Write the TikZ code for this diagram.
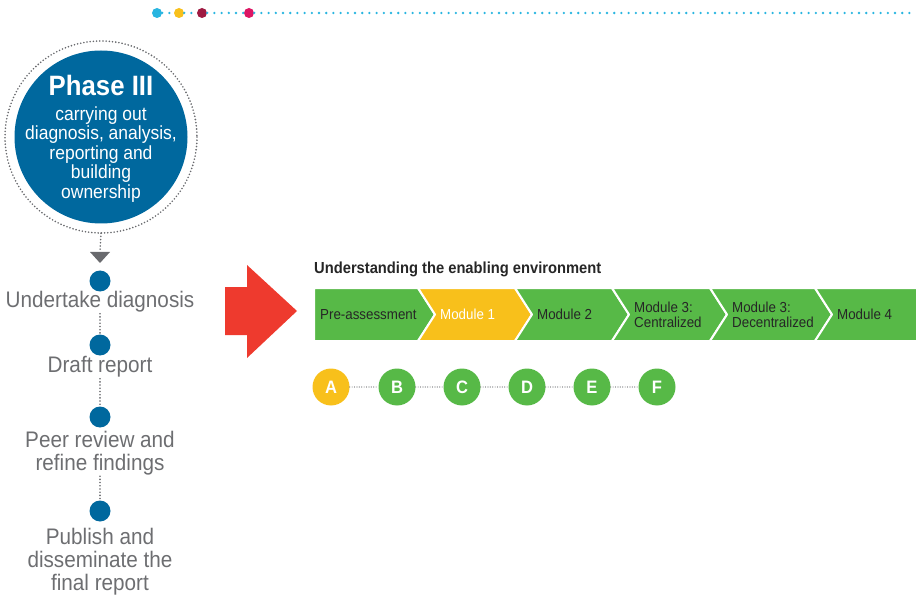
\documentclass[tikz,border=0pt]{standalone}
\usepackage{fontspec}
\setmainfont{Liberation Sans}[FakeStretch=0.92]
\usetikzlibrary{positioning}

\definecolor{phaseblue}{RGB}{0,104,158}
\definecolor{modgreen}{RGB}{87,185,71}
\definecolor{modyellow}{RGB}{248,192,27}
\definecolor{arrowred}{RGB}{238,58,46}
\definecolor{txtgray}{RGB}{109,110,113}
\definecolor{dotgray}{RGB}{105,106,110}
\definecolor{topcyan}{RGB}{41,181,224}
\definecolor{topmaroon}{RGB}{158,27,66}
\definecolor{topmagenta}{RGB}{220,22,100}

\begin{document}
\begin{tikzpicture}[x=1pt, y=-1pt, line join=round]
  % pixel grid of the page, y running down
  \useasboundingbox (0,0) rectangle (916,596);

  \tikzset{
    dotline/.style={draw=dotgray, line width=1.8pt, line cap=round,
      dash pattern=on 0pt off 3.2pt},
    stepdot/.style={circle, fill=phaseblue, minimum size=21pt, inner sep=0pt},
    steplabel/.style={align=center, text=txtgray, inner sep=1pt,
      font=\fontsize{22.5}{23}\selectfont},
    letterdot/.style={circle, minimum size=37pt, inner sep=0pt, text=white,
      font=\fontsize{18}{18}\selectfont\bfseries},
    modlabel/.style={align=left, text=black!85, inner sep=0pt,
      font=\fontsize{14.5}{15}\selectfont},
    topdot/.style={circle, minimum size=10pt, inner sep=0pt},
  }

  % top dotted rule
  \node[topdot, fill=topcyan]    (t1) at (157,13) {};
  \node[topdot, fill=modyellow]  (t2) at (179,13) {};
  \node[topdot, fill=topmaroon]  (t3) at (202,13) {};
  \node[topdot, fill=topmagenta] (t4) at (249,13) {};
  \coordinate (tend) at (916,13);
  \foreach \p/\q in {t1/t2, t2/t3, t3/t4, t4/tend}
    \draw[topcyan, line width=2.6pt, line cap=round,
      dash pattern=on 0pt off 7.2pt] (\p) -- (\q);

  % phase circle
  \node[circle, minimum size=192pt, inner sep=0pt] (ring) at (101,137) {};
  \draw[dotline] (ring.center) circle (96);
  \fill[phaseblue] (ring.center) circle (86.5);
  \node[align=center, text=white, inner sep=0pt,
    font=\fontsize{19}{19.5}\selectfont] (phase) at (101,139)
    {{\fontsize{28}{28}\selectfont\bfseries Phase III}\\[5pt]
     carrying out\\ diagnosis, analysis,\\ reporting and\\ building\\ ownership};

  \coordinate (tri) at (100,252);
  \draw[dotline] (ring.south) -- (tri);
  \fill[dotgray] (90,252) -- (110,252) -- (100,263) -- cycle;

  % steps
  \node[stepdot] (s1) at (100,281) {};
  \node[steplabel] (l1) at (100,302) {Undertake diagnosis};
  \node[stepdot] (s2) at (100,345) {};
  \node[steplabel] (l2) at (100,367) {Draft report};
  \node[stepdot] (s3) at (100,417) {};
  \node[steplabel] (l3) at (100,453) {Peer review and\\ refine findings};
  \node[stepdot] (s4) at (100,511) {};
  \node[steplabel] (l4) at (100,562) {Publish and\\ disseminate the\\ final report};
  \foreach \a/\b in {l1/s2, l2/s3, l3/s4}
    \draw[dotline] (\a.south) -- (\b.north);

  % red arrow
  \fill[arrowred] (225,287) -- (247,287) -- (247,265) -- (297,311)
    -- (247,358) -- (247,335) -- (225,335) -- cycle;

  % modules
  \node[anchor=base west, inner sep=0pt, text=black!85,
    font=\fontsize{16}{17}\selectfont\bfseries] (title) at (314,273)
    {Understanding the enabling environment};

  \pgfmathsetmacro{\d}{17}
  \foreach \xl/\xr/\col/\txt/\tcol [count=\i] in {
    314/418/modgreen/{Pre-assessment}/black!85,
    418/515/modyellow/{Module 1}/white,
    515/612/modgreen/{Module 2}/black!85,
    612/710/modgreen/{Module 3:\\Centralized}/black!85,
    710/815/modgreen/{Module 3:\\Decentralized}/black!85,
    815/916/modgreen/{Module 4}/black!85
  }{
    \ifnum\i=1
      \filldraw[fill=\col, draw=white, line width=2pt]
        (\xl,288) -- (\xr,288) -- (\xr+\d,314.5) -- (\xr,341) -- (\xl,341) -- cycle;
    \else\ifnum\i=6
      \filldraw[fill=\col, draw=white, line width=2pt]
        (\xl,288) -- (\xr+5,288) -- (\xr+5,341) -- (\xl,341) -- (\xl+\d,314.5) -- cycle;
    \else
      \filldraw[fill=\col, draw=white, line width=2pt]
        (\xl,288) -- (\xr,288) -- (\xr+\d,314.5) -- (\xr,341) -- (\xl,341)
        -- (\xl+\d,314.5) -- cycle;
    \fi\fi
    \node[modlabel, text=\tcol, anchor=west] (m\i) at (\xl+\ifnum\i=1 6\else 22\fi,314.5) {\txt};
  }

  % assessment steps
  \foreach \n/\x/\col in {A/331/modyellow, B/397/modgreen, C/462/modgreen,
                          D/527/modgreen, E/592/modgreen, F/657/modgreen}
    \node[letterdot, fill=\col] (\n) at (\x,387) {\n};
  \foreach \a/\b in {A/B, B/C, C/D, D/E, E/F}
    \draw[dotline, line width=1.2pt, dash pattern=on 0pt off 2.4pt] (\a) -- (\b);
\end{tikzpicture}
\end{document}
